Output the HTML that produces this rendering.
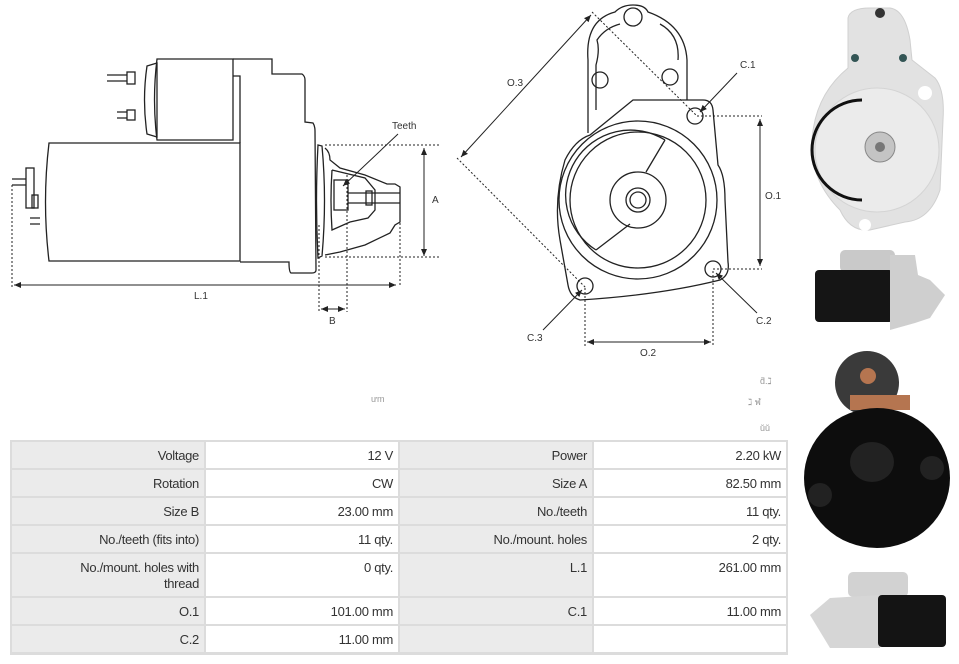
<!DOCTYPE html>
<html><head><meta charset="utf-8"><style>
html,body{margin:0;padding:0;background:#fff;}
svg{display:block;}
text{font-family:"Liberation Sans",sans-serif;}
</style></head><body>
<svg width="959" height="664" viewBox="0 0 959 664" xmlns="http://www.w3.org/2000/svg">
<defs>
<marker id="ar" markerWidth="8" markerHeight="8" refX="7" refY="4" orient="auto" markerUnits="userSpaceOnUse"><path d="M0,1 L7,4 L0,7 z" fill="#222"/></marker>
<marker id="al" markerWidth="8" markerHeight="8" refX="1" refY="4" orient="auto" markerUnits="userSpaceOnUse"><path d="M8,1 L1,4 L8,7 z" fill="#222"/></marker>
</defs>
<rect width="959" height="664" fill="#fff"/>
<!-- SIDE VIEW -->
<g fill="none" stroke="#222" stroke-width="1.3">
<path d="M49,143 L240,143 L240,261 L49,261 Q42,202 49,143 z"/>
<path d="M157,59 L233,59 L233,140 L157,140 Q152,100 157,59 z"/>
<path d="M147,66 L157,63 L157,137 L147,134 Q142,100 147,66 z"/>
<rect x="127" y="72" width="8" height="12"/><path d="M107,75 L127,75 M107,81 L127,81"/>
<rect x="127" y="110" width="8" height="10"/><path d="M117,112 L127,112 M117,118 L127,118"/>
<path d="M233,59 L272,59 L272,74 L302,74 Q305,76 305,80 L305,122 L313,123 Q315,126 315,131 L316,270 Q316,273 312,273 L291,273 Q289,272 289,262 L240,262"/>
<path d="M233,76 L240,76 L240,143"/>
<path d="M318,145 L322,146 Q327,200 322,256 L318,258 Q315,200 318,145 z"/>
<path d="M325,148 Q330,152 330,160 L340,168 L365,175 L387,184 L395,184 L400,187 L400,222 L395,225 L390,233 L365,245 L340,252 L325,255"/>
<path d="M332,170 L365,178 L375,190 L375,210 L368,218 L350,222 L332,230 Q330,200 332,170"/>
<rect x="334" y="180" width="14" height="30"/>
<path d="M348,193 L400,193 M348,203 L400,203"/>
<rect x="366" y="191" width="6" height="14"/>
<rect x="26" y="168" width="8" height="40"/><rect x="32" y="195" width="6" height="13"/>
<path d="M12,179 L26,179 M12,185 L26,185 M30,218 L40,218 M30,224 L40,224"/>
</g>
<g fill="none" stroke="#222" stroke-width="1" stroke-dasharray="2,2">
<path d="M12,185 L12,287 M400,195 L400,287 M319,225 L319,312 M347,175 L347,312 M325,145 L440,145 M325,257 L440,257"/>
</g>
<g stroke="#222" stroke-width="1" fill="none">
<path d="M14,285 L396,285" marker-start="url(#al)" marker-end="url(#ar)"/>
<path d="M424,148 L424,256" marker-start="url(#al)" marker-end="url(#ar)"/>
<path d="M321,309 L345,309" marker-start="url(#al)" marker-end="url(#ar)"/>
<path d="M398,134 L343,186" marker-end="url(#ar)"/>
</g>
<g font-size="10" fill="#333">
<text x="392" y="129">Teeth</text><text x="432" y="203">A</text>
<text x="194" y="299">L.1</text><text x="329" y="324">B</text>
</g>
<!-- FRONT VIEW -->
<g fill="none" stroke="#222" stroke-width="1.3">
<path d="M588,133 L588,60 Q585,20 615,12 Q622,5 633,5 Q645,5 648,12 Q685,25 687,60 L687,100"/>
<path d="M596,110 L596,65 Q600,50 597,40 Q605,28 620,24 M660,24 Q680,35 678,60"/>
<circle cx="633" cy="17" r="9"/><circle cx="600" cy="80" r="8"/><circle cx="670" cy="77" r="8"/>
<path d="M633,100 L703,100 Q712,100 713,110 L718,165 Q725,175 725,200 L728,262 Q730,275 720,280 Q660,295 580,300 Q570,297 568,285 L560,240 Q553,200 565,160 Q575,140 590,135 Z"/>
<circle cx="638" cy="200" r="79"/><circle cx="638" cy="200" r="68"/>
<path d="M665,140 A60,60 0 0 0 596,250"/>
<path d="M665,140 L646,172 M630,224 L596,250"/>
<circle cx="638" cy="200" r="28"/><circle cx="638" cy="200" r="12"/><circle cx="638" cy="200" r="8"/>
<circle cx="695" cy="116" r="8"/><circle cx="713" cy="269" r="8"/><circle cx="585" cy="286" r="8"/>
</g>
<g fill="none" stroke="#222" stroke-width="1" stroke-dasharray="2,2">
<path d="M592,12 L697,116 M457,158 L586,288 M697,116 L762,116 M713,269 L762,269 M585,288 L585,346 M713,271 L713,346"/>
</g>
<g stroke="#222" stroke-width="1" fill="none">
<path d="M760,119 L760,266" marker-start="url(#al)" marker-end="url(#ar)"/>
<path d="M587,342 L711,342" marker-start="url(#al)" marker-end="url(#ar)"/>
<path d="M591,15 L461,157" marker-start="url(#al)" marker-end="url(#ar)"/>
<path d="M737,73 L700,112" marker-end="url(#ar)"/>
<path d="M757,313 L716,273" marker-end="url(#ar)"/>
<path d="M543,330 L582,290" marker-end="url(#ar)"/>
</g>
<g font-size="10" fill="#333">
<text x="740" y="68">C.1</text><text x="765" y="199">O.1</text><text x="756" y="324">C.2</text>
<text x="640" y="356">O.2</text><text x="527" y="341">C.3</text><text x="507" y="86">O.3</text>
</g>
<!-- faint marks -->
<g font-size="9" fill="#999"><text x="371" y="402">ưm</text><text x="760" y="384">ƌ.ℷ</text><text x="748" y="405">ℷ ฬ</text><text x="760" y="431">ŭŭ</text></g>
<!-- PHOTOS -->
<g>
<path d="M848,18 Q850,8 870,8 L890,8 Q905,10 910,40 L912,60 L935,78 Q945,90 943,120 L940,190 Q930,220 905,222 L870,230 Q850,232 840,210 Q810,180 812,140 Q815,95 848,68 Z" fill="#e2e2e2" stroke="#d0d0d0"/>
<circle cx="877" cy="150" r="62" fill="#ebebeb" stroke="#d4d4d4"/>
<path d="M862,100 A50,50 0 0 0 862,200" fill="none" stroke="#111" stroke-width="3"/>
<circle cx="880" cy="147" r="15" fill="#c4c4c4" stroke="#888"/><circle cx="880" cy="147" r="5" fill="#777"/>
<circle cx="925" cy="93" r="7" fill="#fff"/><circle cx="865" cy="225" r="6" fill="#fff"/>
<circle cx="880" cy="13" r="5" fill="#333"/><circle cx="855" cy="58" r="4" fill="#355"/><circle cx="903" cy="58" r="4" fill="#355"/>
<rect x="840" y="250" width="55" height="22" rx="5" fill="#c9c9c9"/>
<rect x="815" y="270" width="78" height="52" rx="4" fill="#151515"/>
<path d="M890,255 L915,255 L918,275 L930,280 L945,295 L930,318 L915,323 L890,330 Z" fill="#cfcfcf"/>
<circle cx="867" cy="383" r="32" fill="#3a3a3a"/>
<circle cx="868" cy="376" r="8" fill="#b57550"/>
<rect x="850" y="395" width="60" height="15" fill="#b57550"/>
<ellipse cx="877" cy="478" rx="73" ry="70" fill="#0d0d0d"/>
<ellipse cx="872" cy="462" rx="22" ry="20" fill="#222"/>
<circle cx="820" cy="495" r="12" fill="#222"/><circle cx="932" cy="468" r="12" fill="#222"/>
<rect x="848" y="572" width="60" height="25" rx="5" fill="#d2d2d2"/>
<path d="M810,615 L830,598 L880,595 L880,648 L830,648 Z" fill="#d6d6d6"/>
<rect x="878" y="595" width="68" height="52" rx="4" fill="#141414"/>
</g>
<!-- TABLE -->
<g>
<rect x="10" y="440" width="778" height="215" fill="#dcdcdc"/>
<g fill="#ebebeb"><rect x="12" y="442" width="192" height="26"/><rect x="12" y="470" width="192" height="26"/><rect x="12" y="498" width="192" height="26"/><rect x="12" y="526" width="192" height="26"/><rect x="12" y="554" width="192" height="42"/><rect x="12" y="598" width="192" height="26"/><rect x="12" y="626" width="192" height="26"/>
<rect x="400" y="442" width="192" height="26"/><rect x="400" y="470" width="192" height="26"/><rect x="400" y="498" width="192" height="26"/><rect x="400" y="526" width="192" height="26"/><rect x="400" y="554" width="192" height="42"/><rect x="400" y="598" width="192" height="26"/><rect x="400" y="626" width="192" height="26"/></g>
<g fill="#fff"><rect x="206" y="442" width="192" height="26"/><rect x="206" y="470" width="192" height="26"/><rect x="206" y="498" width="192" height="26"/><rect x="206" y="526" width="192" height="26"/><rect x="206" y="554" width="192" height="42"/><rect x="206" y="598" width="192" height="26"/><rect x="206" y="626" width="192" height="26"/>
<rect x="594" y="442" width="192" height="26"/><rect x="594" y="470" width="192" height="26"/><rect x="594" y="498" width="192" height="26"/><rect x="594" y="526" width="192" height="26"/><rect x="594" y="554" width="192" height="42"/><rect x="594" y="598" width="192" height="26"/><rect x="594" y="626" width="192" height="26"/></g>
<g font-size="13" fill="#333" text-anchor="end" letter-spacing="-0.3">
<text x="199" y="460">Voltage</text><text x="393" y="460">12 V</text><text x="587" y="460">Power</text><text x="781" y="460">2.20 kW</text>
<text x="199" y="488">Rotation</text><text x="393" y="488">CW</text><text x="587" y="488">Size A</text><text x="781" y="488">82.50 mm</text>
<text x="199" y="516">Size B</text><text x="393" y="516">23.00 mm</text><text x="587" y="516">No./teeth</text><text x="781" y="516">11 qty.</text>
<text x="199" y="544">No./teeth (fits into)</text><text x="393" y="544">11 qty.</text><text x="587" y="544">No./mount. holes</text><text x="781" y="544">2 qty.</text>
<text x="199" y="572">No./mount. holes with</text><text x="199" y="588">thread</text><text x="393" y="572">0 qty.</text><text x="587" y="572">L.1</text><text x="781" y="572">261.00 mm</text>
<text x="199" y="616">O.1</text><text x="393" y="616">101.00 mm</text><text x="587" y="616">C.1</text><text x="781" y="616">11.00 mm</text>
<text x="199" y="644">C.2</text><text x="393" y="644">11.00 mm</text>
</g>
</g>
</svg>
</body></html>
